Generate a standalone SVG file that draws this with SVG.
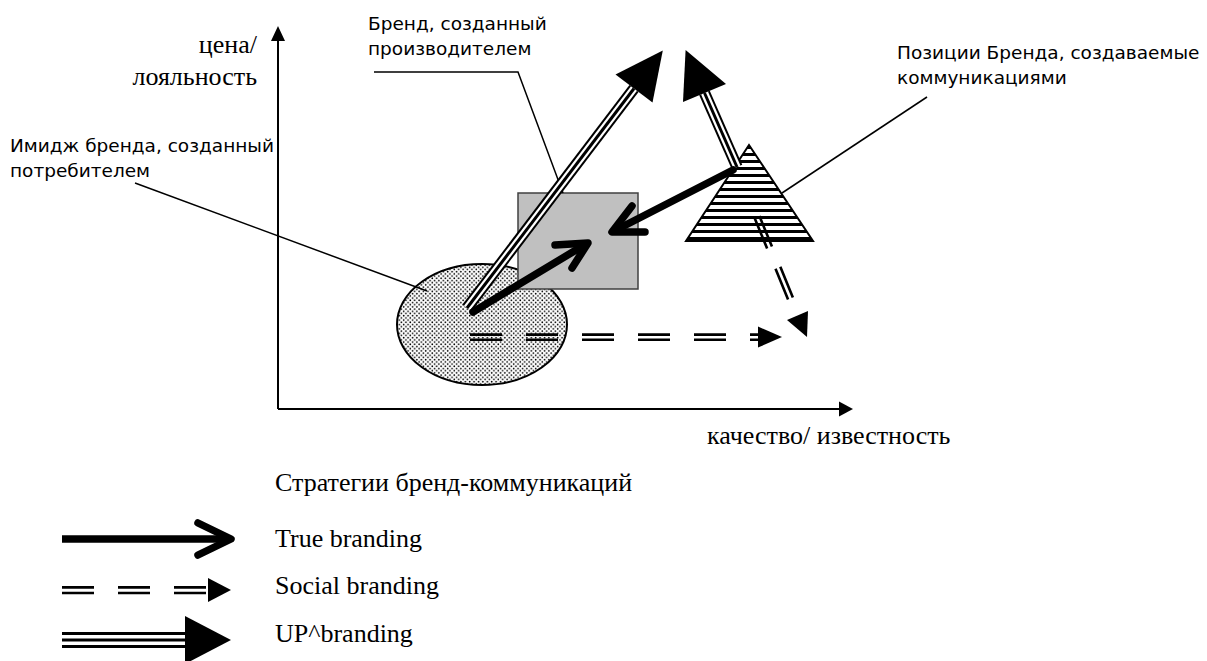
<svg xmlns="http://www.w3.org/2000/svg" width="1207" height="661" viewBox="0 0 1207 661">
<style>
.sans{font-family:"DejaVu Sans",Verdana,sans-serif;font-size:18.5px;fill:#000}
.serif{font-family:"Liberation Serif","Times New Roman",serif;font-size:26px;fill:#000}
.axis{stroke:#000;stroke-width:2;fill:none}
.lead{stroke:#000;stroke-width:1.5;fill:none}
.head{fill:#000;stroke:none}
.tb{stroke:#000;stroke-width:7.5;fill:none;stroke-linecap:round;stroke-linejoin:round}
.up1{stroke:#000;stroke-width:11.5;fill:none}
.up2{stroke:#fff;stroke-width:7.5;fill:none}
.up3{stroke:#000;stroke-width:3;fill:none}
.sb{stroke:#000;stroke-width:2.6;fill:none;stroke-dasharray:32 24}
.sb2{stroke:#000;stroke-width:2.6;fill:none;stroke-dasharray:33 22}
</style>
<defs>
<pattern id="dots" width="4.4" height="4.4" patternUnits="userSpaceOnUse">
<rect width="4.4" height="4.4" fill="#fff"/>
<circle cx="1.1" cy="1.1" r="0.85" fill="#000"/>
<circle cx="3.3" cy="3.3" r="0.85" fill="#000"/>
</pattern>
<pattern id="stripes" width="10" height="7" y="146" patternUnits="userSpaceOnUse">
<rect width="10" height="7" fill="#fff"/>
<rect y="0" width="10" height="3" fill="#000"/>
</pattern>
</defs>
<rect width="1207" height="661" fill="#fff"/>

<g id="axes">
<line class="axis" x1="278" y1="409" x2="278" y2="38"/>
<polygon class="head" points="278,26 271,41 285,41"/>
<line class="axis" x1="278" y1="409" x2="842" y2="409"/>
<polygon class="head" points="853,409 839,401.5 839,416.5"/>
<text class="serif" x="257" y="53" text-anchor="end">цена/</text>
<text class="serif" x="257" y="85" text-anchor="end">лояльность</text>
<text class="serif" x="707" y="444">качество/ известность</text>
</g>

<g id="consumer-image">
<ellipse cx="482" cy="324.5" rx="85" ry="60.5" fill="url(#dots)" stroke="#000" stroke-width="2"/>
<line class="lead" x1="135" y1="183" x2="427" y2="291"/>
<text class="sans" x="10" y="152">Имидж бренда, созданный</text>
<text class="sans" x="10" y="177">потребителем</text>
</g>

<g id="producer-brand">
<rect x="518" y="193" width="120" height="96" fill="#c0c0c0" stroke="#404040" stroke-width="1.5"/>
<polyline class="lead" points="374,72 518,72 563,193"/>
<text class="sans" x="368" y="30">Бренд, созданный</text>
<text class="sans" x="368" y="55">производителем</text>
</g>

<g id="communication-positions">
<polygon points="749,145 686,241 813,241" fill="url(#stripes)" stroke="#000" stroke-width="2"/>
<line class="lead" x1="927" y1="97" x2="782" y2="193"/>
<text class="sans" x="897" y="59">Позиции Бренда, создаваемые</text>
<text class="sans" x="897" y="84">коммуникациями</text>
</g>

<g id="connectors">
<line class="up1" x1="467" y1="308" x2="634" y2="88.5"/>
<line class="up2" x1="467" y1="308" x2="634" y2="88.5"/>
<line class="up3" x1="467" y1="308" x2="634" y2="88.5"/>
<polygon class="head" points="662.8,50.6 615.5,74.4 652.5,102.6"/>
<line class="up1" x1="737" y1="167" x2="704.5" y2="93"/>
<line class="up2" x1="737" y1="167" x2="704.5" y2="93"/>
<line class="up3" x1="737" y1="167" x2="704.5" y2="93"/>
<polygon class="head" points="685.6,50 683,102 726,84"/>
<line class="tb" x1="473" y1="312" x2="586" y2="244"/>
<polyline class="tb" points="555,245 588,243 572,268"/>
<line class="tb" x1="733" y1="170" x2="614" y2="231"/>
<polyline class="tb" points="632,206 612,232 645,232"/>
<line class="sb" x1="470" y1="334.6" x2="760" y2="334.6"/>
<line class="sb" x1="470" y1="339.8" x2="760" y2="339.8"/>
<polygon class="head" points="782,337 758,326.5 758,347.5"/>
<line class="sb2" x1="759.4" y1="216" x2="799.9" y2="314.5"/>
<line class="sb2" x1="754.6" y1="218" x2="795.1" y2="316.5"/>
<polygon class="head" points="807,337 808,311.1 787,319.9"/>
</g>

<g id="legend">
<text class="serif" x="275" y="491">Стратегии бренд-коммуникаций</text>
<line x1="62" y1="539" x2="226" y2="539" stroke="#000" stroke-width="7.5"/>
<polyline class="tb" points="198,523 231,539 198,555"/>
<text class="serif" x="275" y="547">True branding</text>
<line class="sb" x1="62" y1="587.4" x2="210" y2="587.4"/>
<line class="sb" x1="62" y1="593" x2="210" y2="593"/>
<polygon class="head" points="231,590 208,578 208,602"/>
<text class="serif" x="275" y="594">Social branding</text>
<line x1="62" y1="640" x2="187" y2="640" stroke="#000" stroke-width="16"/>
<line x1="62" y1="640" x2="187" y2="640" stroke="#fff" stroke-width="10"/>
<line x1="62" y1="640" x2="187" y2="640" stroke="#000" stroke-width="3"/>
<polygon class="head" points="231,640 185,616 185,664"/>
<text class="serif" x="275" y="642">UP^branding</text>
</g>
</svg>
